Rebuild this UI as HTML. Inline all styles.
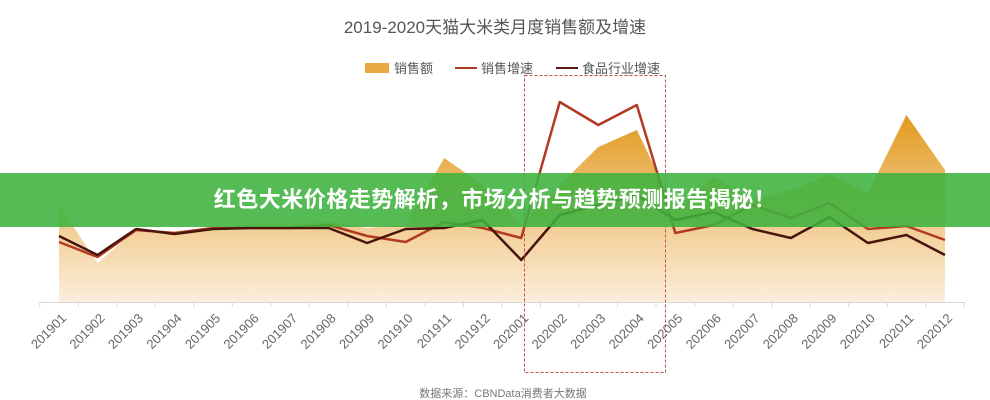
<!DOCTYPE html>
<html><head><meta charset="utf-8"><style>
body{margin:0;width:990px;height:400px;background:#fff;overflow:hidden;font-family:"Liberation Sans","Noto Sans CJK SC",sans-serif;}
svg{position:absolute;left:0;top:0}
.banner{position:absolute;left:0;top:173px;width:990px;height:54px;background:rgba(62,178,62,0.88);color:#fff;font-weight:bold;font-size:22px;line-height:54px;text-align:center;letter-spacing:0.5px}
</style></head><body>
<svg id="chart" width="990" height="400"></svg>
<div class="banner">红色大米价格走势解析，市场分析与趋势预测报告揭秘！</div>
<script>
const categories=["201901","201902","201903","201904","201905","201906","201907","201908","201909","201910","201911","201912","202001","202002","202003","202004","202005","202006","202007","202008","202009","202010","202011","202012"];
const salesValues=[48.5,19.5,36,34.5,37,38.5,38.5,40,37,38.5,72,58.5,38.5,58.5,77.5,86,46,62.5,51,56,63.5,54.5,93.5,66];
const salesGrowth=[30,22.5,36,34.5,37,37,37,38.5,33,30,40,37,32,100,88.5,98.5,34.5,38.5,48.5,42,49.5,36.5,38,31];
const industryGrowth=[33,23.5,36.5,34,36.5,37,37,37,29.5,36.5,37,41,21,43.5,48.5,53.5,41,45,36.5,32,42.5,29.5,33.5,23.5];
const NS="http://www.w3.org/2000/svg";
const svg=document.getElementById('chart');
const x0=59,step=38.52,base=302,k=2;
const xs=i=>x0+i*step;
const ys=v=>base-v*k;
function mk(t,a,p){const e=document.createElementNS(NS,t);for(const n in a)e.setAttribute(n,a[n]);(p||svg).appendChild(e);return e;}
const defs=mk('defs',{});
const g=mk('linearGradient',{id:'ag',x1:0,y1:0,x2:0,y2:1},defs);
mk('stop',{offset:'0',  'stop-color':'#e19a1e'},g);
mk('stop',{offset:'0.45','stop-color':'#efc27a'},g);
mk('stop',{offset:'1','stop-color':'#fbeedd'},g);
let t=mk('text',{x:495,y:33,'text-anchor':'middle','font-size':17,fill:'#555'});t.textContent='2019-2020天猫大米类月度销售额及增速';


let lg=mk('g',{});


mk('rect',{x:365,y:63,width:24,height:10,fill:'#e8aa40'},lg);
t=mk('text',{x:394,y:73,'font-size':13,fill:'#555'},lg);t.textContent='销售额';
mk('line',{x1:455,y1:68,x2:477,y2:68,stroke:'#b23a22','stroke-width':2},lg);
t=mk('text',{x:481,y:73,'font-size':13,fill:'#555'},lg);t.textContent='销售增速';
mk('line',{x1:556,y1:68,x2:578,y2:68,stroke:'#5a1a10','stroke-width':2},lg);
t=mk('text',{x:582,y:73,'font-size':13,fill:'#555'},lg);t.textContent='食品行业增速';
let d='M'+xs(0)+','+base;
salesValues.forEach((v,i)=>d+=' L'+xs(i)+','+ys(v));
d+=' L'+xs(salesValues.length-1)+','+base+' Z';
const area=mk('path',{d:d,fill:'url(#ag)'});


function line(vals,color,name){
  const p=mk('polyline',{points:vals.map((v,i)=>xs(i)+','+ys(v)).join(' '),fill:'none',stroke:color,'stroke-width':2.5,'stroke-linejoin':'round'});
  
  
}
line(salesGrowth,'#b23a22','sales-growth-line');
line(industryGrowth,'#4a140c','industry-growth-line');
const ax=mk('line',{x1:40,y1:base+0.5,x2:965,y2:base+0.5,stroke:'#d8d8d8','stroke-width':1});


for(let i=0;i<=categories.length;i++){const tx=xs(i)-step/2;mk('line',{x1:tx,y1:base,x2:tx,y2:base+5,stroke:'#d8d8d8'});}
categories.forEach((c,i)=>{
  const lx=xs(i)+8, ly=base+17;
  const tt=mk('text',{x:lx,y:ly,'font-size':13,fill:'#666','text-anchor':'end',transform:'rotate(-45 '+lx+' '+ly+')'});
  tt.textContent=c;
  
  
});
const hb=mk('rect',{x:524.5,y:75.5,width:141,height:297,fill:'none',stroke:'#c0504d','stroke-width':1,'stroke-dasharray':'3,2'});


t=mk('text',{x:503,y:397,'text-anchor':'middle','font-size':11,fill:'#777'});t.textContent='数据来源：CBNData消费者大数据';


</script>
</body></html>
